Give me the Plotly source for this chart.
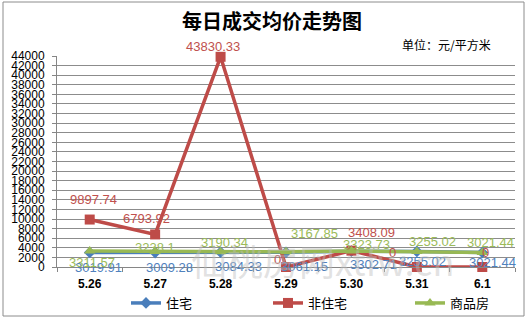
import plotly.graph_objects as go

categories = ["5.26", "5.27", "5.28", "5.29", "5.30", "5.31", "6.1"]
residential = [3019.91, 3009.28, 3084.33, 3061.15, 3302.71, 3255.02, 3021.44]
non_residential = [9897.74, 6793.92, 43830.33, 0, 3408.09, 0, 0]
commercial = [3311.57, 3238.1, 3190.34, 3167.85, 3323.73, 3255.02, 3021.44]
y_ticks = list(range(0, 44001, 2000))

W, H = 531, 320
L, R, T, B = 57, 16, 56, 53
pw, ph = W - L - R, H - T - B


def px(x):
    return (x - L) / pw


def py(y):
    return (H - B - y) / ph


def fmt(v):
    return f"{v:.2f}".rstrip("0").rstrip(".")


# label offsets (pixels) per point, as placed in the original chart
label_style = {
    "住宅": dict(color="#4F81BD", dx=[9, 14, 18, 18, 22, 6, 10], dy=[-15, -15, -14, -14, -13, -10, -10]),
    "非住宅": dict(color="#C0504D", dx=[4, -9, -8, -9, 20, -24, 3], dy=[20, 16, 10, 8, 18, 15, 15]),
    "商品房": dict(color="#9BBB59", dx=[2, 0, 4, 28, 15, 16, 8], dy=[-11, 4, 9, 18, 7, 10, 10]),
}

series = [
    ("住宅", residential, "#4A7EBB", "diamond", 9, 1),
    ("非住宅", non_residential, "#BE4B48", "square", 10, 2),
    ("商品房", commercial, "#98B954", "triangle-up", 10, 3),
]

fig = go.Figure()
for name, vals, color, sym, size, rank in series:
    fig.add_trace(go.Scatter(
        x=categories, y=vals, name=name, mode="lines+markers",
        line=dict(color=color, width=3.5),
        marker=dict(symbol=sym, size=size, color=color),
        legendrank=rank, cliponaxis=False))

annotations = []
for name, vals, color, sym, size, rank in series:
    st = label_style[name]
    for i, v in enumerate(vals):
        annotations.append(dict(
            x=i, y=v, xref="x", yref="y", text=fmt(v), showarrow=False,
            xanchor="center", yanchor="middle", xshift=st["dx"][i], yshift=st["dy"][i],
            font=dict(family="Liberation Sans", size=13, color=st["color"])))

annotations += [
    dict(text="<b>每日成交均价走势图</b>", xref="paper", yref="paper",
         x=px(272), y=py(20), xanchor="center", yanchor="middle", showarrow=False,
         font=dict(family="Noto Sans CJK SC", size=20, color="black")),
    dict(text="单位：元/平方米", xref="paper", yref="paper",
         x=px(446), y=py(44), xanchor="center", yanchor="middle", showarrow=False,
         font=dict(family="Noto Sans CJK SC", size=12, color="black")),
    dict(text="仙桃房网xtfw.cn", xref="paper", yref="paper",
         x=px(322), y=py(260), xanchor="center", yanchor="middle", showarrow=False,
         font=dict(family="Noto Sans CJK SC", size=36, color="rgba(190,190,190,0.45)")),
]

fig.update_layout(
    width=W, height=H,
    margin=dict(l=L, r=R, t=T, b=B, autoexpand=False),
    paper_bgcolor="white", plot_bgcolor="white",
    font=dict(family="Liberation Sans", size=12, color="black"),
    showlegend=True,
    legend=dict(orientation="h", x=px(126), xanchor="left", y=py(303), yanchor="middle",
                font=dict(family="Noto Sans CJK SC", size=13), itemwidth=30,
                entrywidth=97, traceorder="normal", bgcolor="rgba(0,0,0,0)"),
    xaxis=dict(type="category", tickson="boundaries", showgrid=False,
               showline=True, linecolor="#868686", linewidth=1,
               ticks="outside", ticklen=4, tickcolor="#868686",
               tickvals=categories, ticktext=[f"<b>{c}</b>" for c in categories],
               tickfont=dict(family="Liberation Sans", size=12, color="black"),
               ticklabelstandoff=6, range=[-0.5, 6.5]),
    yaxis=dict(range=[0, 44000], tickvals=y_ticks, ticktext=[str(v) for v in y_ticks],
               showgrid=True, gridcolor="#8C8C8C", gridwidth=1,
               showline=True, linecolor="#868686", linewidth=1,
               ticks="outside", ticklen=4, tickcolor="#868686",
               tickfont=dict(family="Liberation Sans", size=12, color="black"),
               ticklabelstandoff=5, zeroline=False),
    shapes=[dict(type="rect", xref="paper", yref="paper",
                 x0=px(3), x1=px(524), y0=py(316), y1=py(2),
                 line=dict(color="#8C8C8C", width=1), layer="below")],
    annotations=annotations,
)

fig.write_html("out.html")
